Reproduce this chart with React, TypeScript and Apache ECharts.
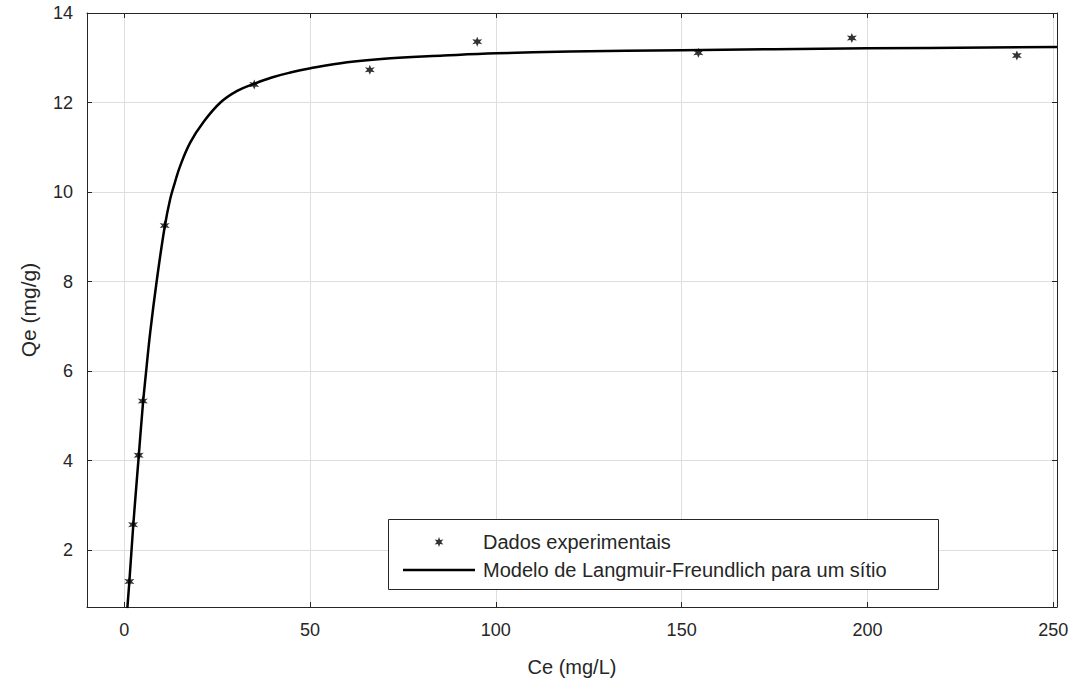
import React, { useEffect, useRef } from "react";
import * as echarts from "echarts";

const ceData = [1.4, 2.4, 3.9, 5.0, 10.9, 35.0, 66.1, 95.0, 154.5, 195.8, 240.2];
const qeData = [1.3, 2.57, 4.12, 5.33, 9.25, 12.4, 12.73, 13.36, 13.11, 13.44, 13.05];

// Fitted model curve
const modelCe = [
  0.85, 1.4, 2.4, 3.1, 3.9, 5.0, 5.7, 7.0, 8.8, 10.9, 12.4, 13.6, 15.1, 17.8, 21.4,
  25.9, 30.4, 35.0, 39.7, 44.7, 49.8, 60, 71.7, 86, 100, 120, 150, 200, 251,
];
const modelQe = [
  0.7, 1.3, 2.5, 3.25, 4.08, 5.22, 5.82, 6.86, 8.04, 9.22, 9.85, 10.2, 10.59, 11.11, 11.57,
  12.0, 12.26, 12.42, 12.56, 12.67, 12.76, 12.9, 12.99, 13.05, 13.1, 13.14, 13.17, 13.21, 13.24,
];

const xTicks = [0, 50, 100, 150, 200, 250];
const yTicks = [2, 4, 6, 8, 10, 12, 14];

const seriesNames = ["Dados experimentais", "Modelo de Langmuir-Freundlich para um sítio"];
const xName = "Ce (mg/L)";
const yName = "Qe (mg/g)";

// asterisk-like star symbol
function starPath(): string {
  const pts: string[] = [];
  for (let k = 0; k < 12; k++) {
    const a = (Math.PI / 6) * k - Math.PI / 2;
    const r = k % 2 === 0 ? 10 : 4.5;
    pts.push(`${(10 + r * Math.cos(a)).toFixed(2)} ${(10 + r * Math.sin(a)).toFixed(2)}`);
  }
  return "path://M" + pts.join(" L") + " Z";
}

const FONT = "Liberation Sans, Arial, Helvetica, sans-serif";
const TXT = "#262626";
const AXC = "#262626";
const GRIDC = "#dedede";

export default function App() {
  const ref = useRef<HTMLDivElement>(null);
  useEffect(() => {
    if (!ref.current) return;
    const chart = echarts.init(ref.current, undefined, { renderer: "svg" });
    const sym = starPath();
    const scatterData = ceData.map((c, i) => [c, qeData[i]]);
    const lineData = modelCe.map((c, i) => [c, modelQe[i]]);

    const xFmt = (v: number) => (xTicks.indexOf(Math.round(v * 1000) / 1000) >= 0 ? String(v) : "");
    const yFmt = (v: number) => (yTicks.indexOf(Math.round(v * 1000) / 1000) >= 0 ? String(v) : "");

    const baseX = {
      type: "value",
      min: -10,
      max: 251,
      minInterval: 50,
      maxInterval: 50,
      splitNumber: 5,
      axisLine: { show: true, onZero: false, lineStyle: { color: AXC, width: 1 } },
      axisTick: { show: true, inside: true, length: 5, lineStyle: { color: AXC } },
    };
    const baseY = {
      type: "value",
      min: 0.73,
      max: 14,
      minInterval: 2,
      maxInterval: 2,
      splitNumber: 7,
      axisLine: { show: true, onZero: false, lineStyle: { color: AXC, width: 1 } },
      axisTick: { show: true, inside: true, length: 5, lineStyle: { color: AXC } },
    };

    chart.setOption({
      animation: false,
      backgroundColor: "#ffffff",
      textStyle: { fontFamily: FONT },
      grid: { left: 87, right: 21, top: 13, bottom: 85, containLabel: false },
      xAxis: [
        {
          ...baseX,
          position: "bottom",
          name: xName,
          nameLocation: "middle",
          nameGap: 50,
          nameTextStyle: { color: TXT, fontSize: 20, fontFamily: FONT },
          axisLabel: { color: TXT, fontSize: 18, fontFamily: FONT, margin: 14, formatter: xFmt },
          splitLine: { show: true, lineStyle: { color: GRIDC, width: 1 } },
        },
        {
          ...baseX,
          position: "top",
          axisLabel: { show: false },
          splitLine: { show: false },
        },
      ],
      yAxis: [
        {
          ...baseY,
          position: "left",
          name: yName,
          nameLocation: "middle",
          nameGap: 48,
          nameTextStyle: { color: TXT, fontSize: 21, fontFamily: FONT },
          axisLabel: { color: TXT, fontSize: 18, fontFamily: FONT, margin: 14, formatter: yFmt },
          splitLine: { show: true, lineStyle: { color: GRIDC, width: 1 } },
        },
        {
          ...baseY,
          position: "right",
          axisLabel: { show: false },
          splitLine: { show: false },
        },
      ],
      legend: {
        show: true,
        orient: "vertical",
        left: 403,
        top: 532,
        itemWidth: 72,
        itemHeight: 10,
        itemGap: 8,
        padding: 0,
        z: 10,
        textStyle: { color: TXT, fontSize: 20, fontFamily: FONT, lineHeight: 20, padding: [0, 0, 0, 3] },
        data: [
          { name: seriesNames[0] },
          { name: seriesNames[1], icon: "path://M0 0 L72 0 L72 2.5 L0 2.5 Z" },
        ],
      },
      graphic: [
        {
          type: "rect",
          z: 5,
          shape: { x: 388.5, y: 519.5, width: 550, height: 70 },
          style: { fill: "#ffffff", stroke: AXC, lineWidth: 1 },
        },
      ],
      series: [
        {
          name: seriesNames[0],
          type: "scatter",
          xAxisIndex: 0,
          yAxisIndex: 0,
          symbol: sym,
          symbolSize: 10,
          itemStyle: { color: "#000000" },
          data: scatterData,
          z: 4,
        },
        {
          name: seriesNames[1],
          type: "line",
          xAxisIndex: 0,
          yAxisIndex: 0,
          symbol: "none",
          smooth: 0.4,
          lineStyle: { color: "#000000", width: 2.5 },
          itemStyle: { color: "#000000" },
          data: lineData,
          z: 3,
        },
      ],
    });
    return () => chart.dispose();
  }, []);
  return (
    <div
      ref={ref}
      style={{ position: "fixed", left: 0, top: 0, width: 1078, height: 692, background: "#fff" }}
    />
  );
}
